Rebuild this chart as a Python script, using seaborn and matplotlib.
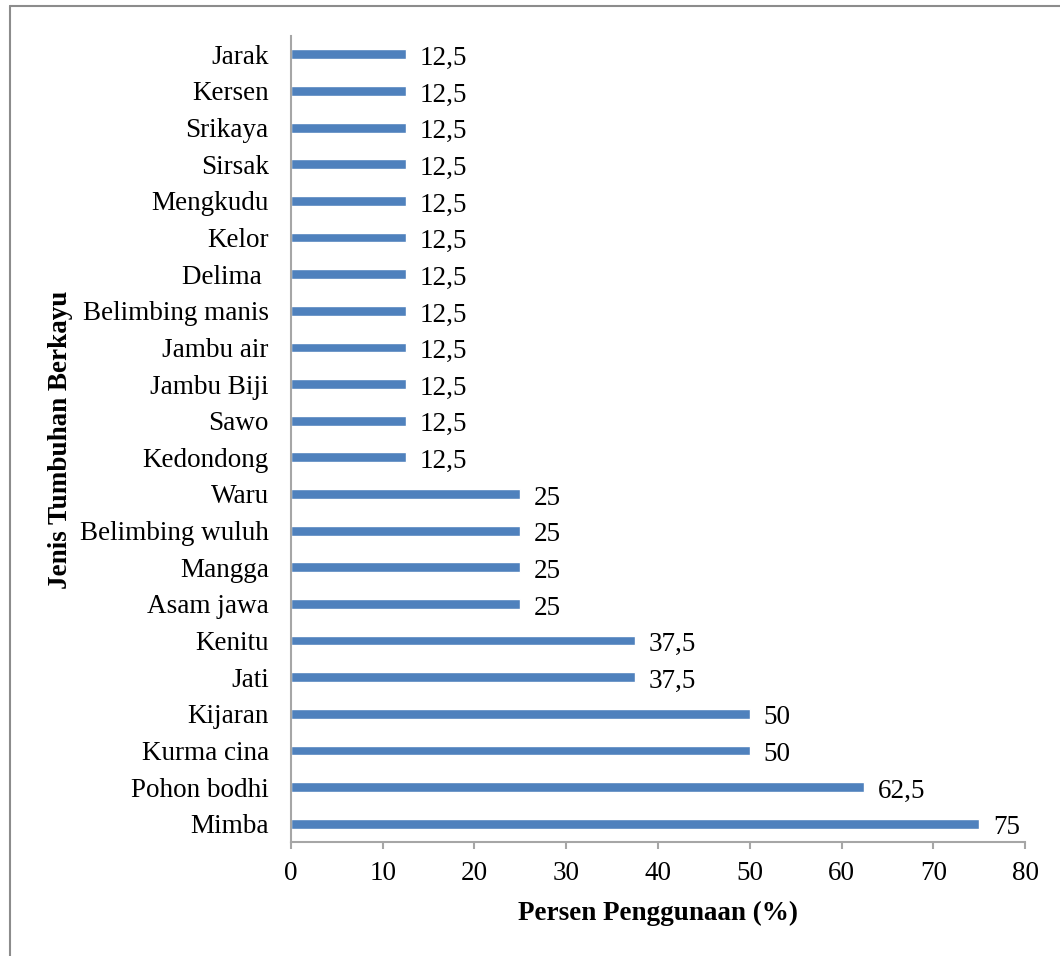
import matplotlib
matplotlib.use("Agg")
import matplotlib.pyplot as plt
from matplotlib.lines import Line2D
import seaborn as sns
import pandas as pd

# Woody plant species and their usage percentage (top to bottom)
species = [
    "Jarak", "Kersen", "Srikaya", "Sirsak", "Mengkudu", "Kelor", "Delima ",
    "Belimbing manis", "Jambu air", "Jambu Biji", "Sawo", "Kedondong",
    "Waru", "Belimbing wuluh", "Mangga", "Asam jawa", "Kenitu", "Jati",
    "Kijaran", "Kurma cina", "Pohon bodhi", "Mimba",
]
usage = [
    12.5, 12.5, 12.5, 12.5, 12.5, 12.5, 12.5,
    12.5, 12.5, 12.5, 12.5, 12.5,
    25, 25, 25, 25, 37.5, 37.5,
    50, 50, 62.5, 75,
]
x_ticks = [0, 10, 20, 30, 40, 50, 60, 70, 80]

df = pd.DataFrame({"Jenis": species, "Persen": usage})

sns.set_theme(style="white")
plt.rcParams["font.family"] = ["Liberation Serif", "DejaVu Serif"]

FS = 19.5

fig = plt.figure(figsize=(10.6, 9.56), dpi=100)
ax = fig.add_axes([0.2745, 0.1192, 0.6925, 0.8431])

bar_color = "#4F81BD"
sns.barplot(data=df, x="Persen", y="Jenis", orient="h", color=bar_color,
            saturation=1, width=0.27, ax=ax)

# value labels to the right of each bar, with comma decimals
for i, v in enumerate(usage):
    txt = f"{v:g}".replace(".", ",")
    ax.annotate(txt, xy=(v, i), xytext=(10, -3), textcoords="offset points",
                ha="left", va="center", fontsize=FS, color="black")

ax.set_xlim(0, 80)
ax.set_ylim(len(species) - 0.5, -0.5)
ax.set_xticks(x_ticks)
ax.set_xticklabels([str(t) for t in x_ticks])

spine_color = "#A6A6A6"
for side in ["top", "right"]:
    ax.spines[side].set_visible(False)
for side in ["left", "bottom"]:
    ax.spines[side].set_color(spine_color)
    ax.spines[side].set_linewidth(1.5)

ax.tick_params(axis="x", direction="out", length=5, width=1.5, color=spine_color,
               labelsize=FS, pad=9, bottom=True)
ax.tick_params(axis="y", length=0, labelsize=FS, pad=16)
for lab in ax.get_yticklabels() + ax.get_xticklabels():
    lab.set_color("black")

ax.set_xlabel("Persen Penggunaan (%)", fontsize=FS, fontweight="bold",
              color="black", labelpad=10)
ax.set_ylabel("")
fig.text(0.057, 0.54, "Jenis Tumbuhan Berkayu", rotation=90, ha="center",
         va="center", fontsize=FS, fontweight="bold", color="black")

# frame lines around the chart area
fig.add_artist(Line2D([10 / 1060, 10 / 1060], [0, 1 - 6 / 956],
                      transform=fig.transFigure, color="#8C8C8C", lw=1.5))
fig.add_artist(Line2D([10 / 1060, 1], [1 - 6 / 956, 1 - 6 / 956],
                      transform=fig.transFigure, color="#8C8C8C", lw=1.5))

fig.savefig("out.png", dpi=100, facecolor="white")
